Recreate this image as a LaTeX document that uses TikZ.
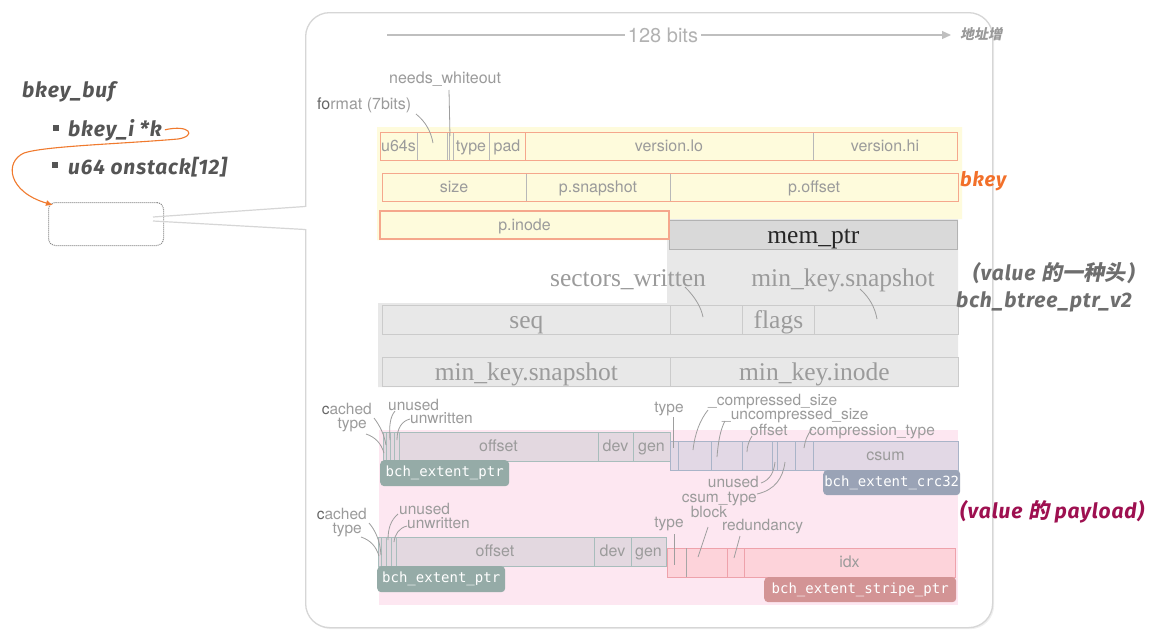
\documentclass[tikz,border=0pt]{standalone}
\usepackage{fontspec}
\setmainfont{Liberation Serif}
\newfontfamily\hv{TeX Gyre Heros}
\newfontfamily\fira{Fira Sans}[LetterSpace=4]
\newfontfamily\mono{DejaVu Sans Mono}
\newfontfamily\cjk{Noto Sans CJK SC}[FakeSlant=0.2]
\usetikzlibrary{arrows.meta,shadows}
\definecolor{tgray}{HTML}{9B9B9B}
\definecolor{tdark}{HTML}{6E6E6E}
\definecolor{lgray}{HTML}{9E9E9E}
\definecolor{yel}{HTML}{FEFBDC}
\definecolor{orng}{HTML}{F5A78C}
\definecolor{orng2}{HTML}{F07A2E}
\definecolor{divg}{HTML}{B8B8B8}
\definecolor{gbg}{HTML}{E8E8E8}
\definecolor{gline}{HTML}{CBCBCB}
\definecolor{memf}{HTML}{D9D9D9}
\definecolor{meml}{HTML}{B3B3B3}
\definecolor{pinkbg}{HTML}{FDE7F1}
\definecolor{cEf}{HTML}{E3D8E0}
\definecolor{cEl}{HTML}{A8BDBC}
\definecolor{cElab}{HTML}{95ABA7}
\definecolor{cCf}{HTML}{E2D8E5}
\definecolor{cCl}{HTML}{A9B4C8}
\definecolor{cClab}{HTML}{9AA3B6}
\definecolor{cSf}{HTML}{FDD3DA}
\definecolor{cSl}{HTML}{EEA2AB}
\definecolor{cSlab}{HTML}{D39495}
\definecolor{pay}{HTML}{9E1050}
\definecolor{keyo}{HTML}{F2702A}
\definecolor{leftt}{HTML}{555555}
\definecolor{panelb}{HTML}{D6D6D6}
\definecolor{darkfo}{HTML}{666666}

\newcommand\fld[7]{\node[#1,anchor=north west,minimum width={#4-#2},minimum height={#5-#3}] (#6) at (#2,#3) {#7};}

\begin{document}
\begin{tikzpicture}[x=1pt,y=-1pt,
  lbl/.style={font=\hv\fontsize{16}{18}\selectfont, text=tgray},
  sml/.style={font=\hv\fontsize{15.5}{17}\selectfont, text=tgray, inner sep=0pt},
  ser/.style={font=\fontsize{25.5}{28}\selectfont, text=tgray},
  cellt/.style={inner sep=0pt, outer sep=0pt, text height=12pt, text depth=2pt, lbl},
  ycell/.style={cellt, draw=divg, fill=yel, line width=0.8pt},
  ogrp/.style={inner sep=0pt, draw=orng, line width=1.3pt},
  gcell/.style={inner sep=0pt, draw=gline, fill=gbg, line width=0.8pt, ser, text height=20pt, text depth=2pt},
  memc/.style={gcell, fill=memf, draw=meml, text=black!85},
  ecell/.style={cellt, draw=cEl, fill=cEf, line width=0.8pt},
  ccell/.style={cellt, draw=cCl, fill=cCf, line width=0.8pt},
  scell/.style={cellt, draw=cSl, fill=cSf, line width=0.8pt},
  mlab/.style={font=\mono\fontsize{14}{16}\selectfont, text=white, rounded corners=4pt, inner sep=0pt},
  lead/.style={draw=lgray, line width=0.8pt},
  lft/.style={font=\fira\bfseries\itshape\fontsize{21}{24}\selectfont, text=leftt, inner sep=0pt},
  rlab/.style={font=\fira\bfseries\itshape\fontsize{21}{24}\selectfont, inner sep=0pt},
  bul/.style={fill=leftt, minimum size=6pt, inner sep=0pt}
]
\useasboundingbox (0,0) rectangle (1149,637);
\fill[white] (0,0) rectangle (1149,637);

% panel
\node[draw=panelb, line width=1.3pt, fill=white, rounded corners=24pt, minimum width=687pt, minimum height=615pt, anchor=north west, inner sep=0pt, drop shadow={opacity=0.12,shadow xshift=1.5pt,shadow yshift=-1.5pt}] (panel) at (305,12) {};
\fill[white] (302,207) rectangle (310,229);

% callout box and wedge
\node[draw=gray!95, densely dotted, line width=1pt, rounded corners=7pt, fill=white, minimum width=115pt, minimum height=43pt, anchor=north west, inner sep=0pt] (buf) at (48,202) {};
\coordinate (w1) at (305,206.5);
\coordinate (w2) at (305,229.5);
\draw[draw=panelb, line width=1.2pt] (153,217) -- (w1);
\draw[draw=panelb, line width=1.2pt] (153,221) -- (w2);

% left texts
\node[lft, anchor=base west] (bb) at (22,97) {bkey\_buf};
\node[bul] (b1) at (56,128) {};
\node[lft, anchor=base west] (k) at (68,136) {bkey\_i *k};
\node[bul] (b2) at (55,165) {};
\node[lft, anchor=base west] (os) at (68,174) {u64 onstack[12]};
\draw[orng2, line width=1.1pt, -{Latex[length=7pt,width=6pt]}] ([xshift=3pt]k.east) .. controls (190,124) and (197,136) .. (178,139) .. controls (120,144) and (45,146) .. (24,153) .. controls (4,162) and (8,192) .. ([shift={(5,3)}]buf.north west);

% top arrow
\coordinate (a0) at (387,35);
\coordinate (a1) at (951,35);
\draw[draw=gray!50, line width=1.2pt, -{Triangle[length=9pt,width=8pt]}] (a0) -- (a1);
\node[fill=white, inner xsep=3pt, inner ysep=1pt, font=\hv\fontsize{20}{22}\selectfont, text=gray!60, anchor=base] (bits) at (663,42) {128 bits};
\node[font=\cjk\bfseries\fontsize{14}{16}\selectfont, text=gray!80, anchor=base west, inner sep=0pt] (addr) at (960,39) {地址增};

% backgrounds
\fill[yel] (377,127) -- (962,127) -- (962,219) -- (669,219) -- (669,240) -- (377,240) -- cycle;
\fill[gbg] (667,219) -- (958,219) -- (958,387) -- (378,387) -- (378,303) -- (667,303) -- cycle;
\fill[pinkbg] (379,430) rectangle (958,605);

% bkey row 1
\fld{ycell}{380}{132}{417}{160}{u64s}{u64s}
\fld{ycell}{417}{132}{447}{160}{r1b}{}
\fld{ycell}{447}{132}{449.5}{160}{r1c}{}
\fld{ycell}{449.5}{132}{453}{160}{r1d}{}
\fld{ycell}{453}{132}{489}{160}{typeA}{type}
\fld{ycell}{489}{132}{525}{160}{pad}{pad}
\fld{ycell}{525}{132}{813}{160}{vlo}{version.lo}
\fld{ycell}{813}{132}{957}{160}{vhi}{version.hi}
\fld{ogrp}{380}{132}{525}{160}{g1}{}
\fld{ogrp}{525}{132}{957}{160}{g2}{}

\node[lbl, anchor=base west, inner sep=0pt] (nw) at (389,83) {needs\_whiteout};
\node[lbl, anchor=base west, inner sep=0pt] (fmt) at (317,109) {{\color{darkfo}fo}rmat (7bits)};
\draw[lead] (449,90) -- (450,136);
\draw[lead] (416,114) .. controls (426,122) and (431,132) .. (433,143);

% bkey row 2
\fld{ycell}{382}{173}{526}{201}{size}{size}
\fld{ycell}{526}{173}{670}{201}{psnap}{p.snapshot}
\fld{ycell}{670}{173}{958}{201}{poff}{p.offset}
\fld{ogrp}{382}{173}{958}{201}{g3}{}

% mem_ptr and p.inode
\fld{memc}{669}{220}{957}{249}{mem}{mem\_ptr}
\fld{ycell, draw=orng, line width=1.3pt}{380}{211}{669}{239}{pinode}{p.inode}

% btree ptr rows
\node[ser, anchor=base, inner sep=0pt] (swl) at (628,286) {sectors\_written};
\node[ser, anchor=base, inner sep=0pt] (mksl) at (843,286) {min\_key.snapshot};
\fld{gcell}{382}{305}{670}{334}{seq}{seq}
\fld{gcell}{670}{305}{742}{334}{sw}{}
\fld{gcell}{742}{305}{814}{334}{flags}{flags}
\fld{gcell}{814}{305}{958}{334}{mks}{}
\fld{gcell}{382}{357}{670}{386}{mksnap}{min\_key.snapshot}
\fld{gcell}{670}{357}{958}{386}{mkino}{min\_key.inode}
\draw[lead] (685,287) .. controls (695,297) and (701,307) .. (703,317);
\draw[lead] (860,289) .. controls (870,298) and (875,308) .. (877,319);

% extent ptr 1
\fld{ecell}{383}{432}{386}{461}{e1a}{}
\fld{ecell}{386}{432}{390}{461}{e1b}{}
\fld{ecell}{390}{432}{394}{461}{e1c}{}
\fld{ecell}{394}{432}{399}{461}{e1d}{}
\fld{ecell}{399}{432}{598}{461}{e1off}{offset}
\fld{ecell}{598}{432}{633}{461}{e1dev}{dev}
\fld{ecell}{633}{432}{670}{461}{e1gen}{gen}
\fld{mlab, fill=cElab}{380}{460}{509}{486}{e1lab}{bch\_extent\_ptr}
\node[sml, anchor=base east] (e1ca) at (372,414) {{\color{darkfo}c}ached};
\node[sml, anchor=base east] (e1ty) at (367,428) {type};
\node[sml, anchor=base west] (e1un) at (388,410) {unused};
\node[sml, anchor=base west] (e1uw) at (410,423) {unwritten};
\draw[lead] (374,418) .. controls (380,426) and (384,434) .. (386,445);
\draw[lead] (366,434) .. controls (375,437) and (381,443) .. (384,453);
\draw[lead] (395,411) .. controls (390,417) and (389,426) .. (390,440);
\draw[lead] (410,419) .. controls (402,421) and (397,428) .. (397,440);

% crc32
\fld{ccell}{670}{441}{678}{470}{c1}{}
\fld{ccell}{678}{441}{711}{470}{c2}{}
\fld{ccell}{711}{441}{742}{470}{c3}{}
\fld{ccell}{742}{441}{772}{470}{c4}{}
\fld{ccell}{772}{441}{777}{470}{c5}{}
\fld{ccell}{777}{441}{795}{470}{c6}{}
\fld{ccell}{795}{441}{813}{470}{c7}{}
\fld{ccell}{813}{441}{958}{470}{csum}{csum}
\fld{mlab, fill=cClab}{823}{470}{960}{495}{clab}{bch\_extent\_crc32}
\node[sml, anchor=base] (cty) at (669,412) {type};
\node[sml, anchor=base west] (ccs) at (708,405) {\_compressed\_size};
\node[sml, anchor=base west] (cus) at (722,419) {\_uncompressed\_size};
\node[sml, anchor=base west] (cof) at (750,435) {offset};
\node[sml, anchor=base west] (cct) at (809,435) {compression\_type};
\node[sml, anchor=base east] (cun) at (759,487) {unused};
\node[sml, anchor=base east] (cst) at (757,502) {csum\_type};
\draw[lead] (673,417) -- (673,448);
\draw[lead] (708,410) .. controls (700,420) and (695,433) .. (693,450);
\draw[lead] (725,421) .. controls (720,430) and (718,444) .. (717,457);
\draw[lead] (752,436) .. controls (749,441) and (747,446) .. (747,452);
\draw[lead] (812,429) .. controls (807,435) and (805,441) .. (804,448);
\draw[lead] (761,483) .. controls (770,480) and (774,472) .. (775,462);
\draw[lead] (757,494) .. controls (775,490) and (783,478) .. (785,462);

% extent ptr 2
\fld{ecell}{378}{537}{381}{566}{e2a}{}
\fld{ecell}{381}{537}{386}{566}{e2b}{}
\fld{ecell}{386}{537}{391}{566}{e2c}{}
\fld{ecell}{391}{537}{396}{566}{e2d}{}
\fld{ecell}{396}{537}{594}{566}{e2off}{offset}
\fld{ecell}{594}{537}{631}{566}{e2dev}{dev}
\fld{ecell}{631}{537}{666}{566}{e2gen}{gen}
\fld{mlab, fill=cElab}{377}{566}{505}{592}{e2lab}{bch\_extent\_ptr}
\node[sml, anchor=base east] (e2ca) at (367,519) {{\color{darkfo}c}ached};
\node[sml, anchor=base east] (e2ty) at (362,533) {type};
\node[sml, anchor=base west] (e2un) at (399,514) {unused};
\node[sml, anchor=base west] (e2uw) at (407,528) {unwritten};
\draw[lead] (369,523) .. controls (375,530) and (380,540) .. (381,555);
\draw[lead] (361,537) .. controls (370,540) and (376,546) .. (379,556);
\draw[lead] (398,514) .. controls (391,520) and (388,528) .. (388,540);
\draw[lead] (407,526) .. controls (399,528) and (395,534) .. (394,542);

% stripe ptr
\fld{scell}{667}{548}{686}{577}{s1}{}
\fld{scell}{686}{548}{727}{577}{s2}{}
\fld{scell}{727}{548}{744}{577}{s3}{}
\fld{scell}{744}{548}{955}{577}{idx}{idx}
\draw[draw=gray!70, line width=0.9pt] (s2.north west) -- (s2.south west);
\fld{mlab, fill=cSlab}{764}{577}{956}{602}{slabn}{bch\_extent\_stripe\_ptr}
\node[sml, anchor=base] (sty) at (669,527) {type};
\node[sml, anchor=base] (sbl) at (709,517) {block};
\node[sml, anchor=base west] (srd) at (722,530) {redundancy};
\draw[lead] (674,534) -- (674,565);
\draw[lead] (708,527) -- (698,557);
\draw[lead] (740,536) -- (734,558);

% right labels
\node[rlab, font=\fira\bfseries\itshape\fontsize{20}{24}\selectfont, text=keyo, anchor=base west] (bkeyl) at (960,186) {bkey};
\node[rlab, text=tdark, anchor=base west] (vh) at (973,280) {(value {\cjk\bfseries 的一种头}\kern3pt)};
\node[rlab, text=tdark, anchor=base west] (btp) at (956,307) {bch\_btree\_ptr\_v2};
\node[rlab, text=pay, anchor=base west] (vp) at (960,518) {(value {\cjk\bfseries 的} payload)};
\end{tikzpicture}
\end{document}
